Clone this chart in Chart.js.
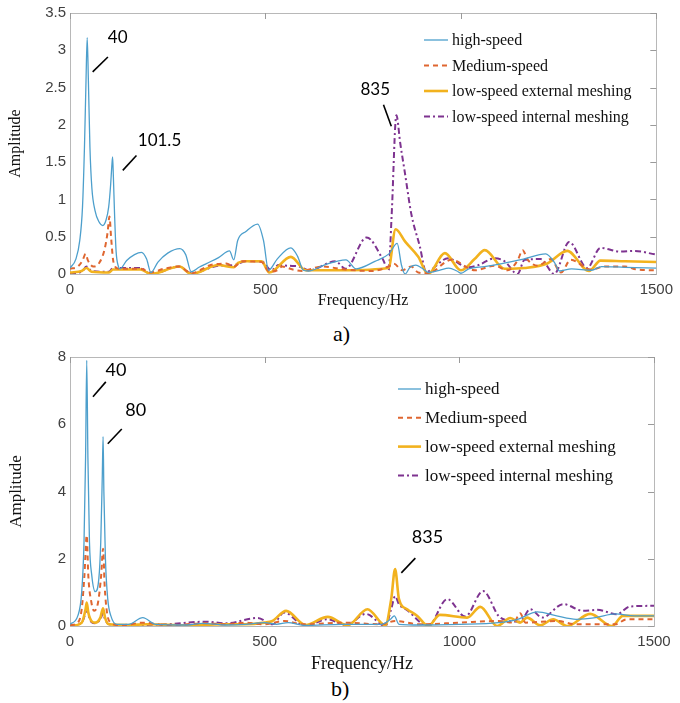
<!DOCTYPE html>
<html>
<head>
<meta charset="utf-8">
<script src="https://cdn.jsdelivr.net/npm/chart.js@4"></script>
<style>
  body { margin: 0; background: #fff; width: 680px; height: 703px; position: relative; overflow: hidden; }
  canvas { position: absolute; left: 0; }
  .cap { position: absolute; font-family: "Liberation Serif", serif; font-size: 22px; color: #000; }
</style>
</head>
<body>
<canvas id="chartA" width="680" height="310" style="top:0"></canvas>
<div class="cap" style="left:333px; top:321px">a)</div>
<canvas id="chartB" width="680" height="335" style="top:340px"></canvas>
<div class="cap" style="left:331px; top:676px">b)</div>
<script>
// series names
const names = ['high-speed', 'Medium-speed', 'low-speed external meshing', 'low-speed internal meshing'];

// a) frequency (Hz) / amplitude pairs
const aHighX = [0, 15, 25, 32, 37, 41, 44, 47, 51, 56, 64, 74, 84, 92, 99, 104, 107, 109, 111, 114, 118, 124, 128, 145, 165, 183, 196, 207, 225, 250, 281, 296, 310, 330, 349, 380, 408, 419, 429, 450, 480, 495, 508, 530, 565, 582, 597, 610, 650, 706, 732, 780, 816, 837, 848, 857, 870, 885, 900, 918, 945, 969, 990, 1000, 1020, 1060, 1105, 1160, 1217, 1240, 1252, 1283, 1334, 1360, 1420, 1500];
const aHighY = [0.08, 0.2, 0.45, 0.9, 1.7, 2.6, 3.17, 2.6, 1.7, 1.15, 0.85, 0.7, 0.65, 0.72, 0.9, 1.2, 1.45, 1.57, 1.3, 0.8, 0.3, 0.1, 0.07, 0.18, 0.26, 0.29, 0.2, 0.02, 0.16, 0.28, 0.34, 0.26, 0.03, 0.09, 0.14, 0.22, 0.31, 0.19, 0.45, 0.57, 0.67, 0.45, 0.05, 0.2, 0.35, 0.24, 0.05, 0.04, 0.12, 0.19, 0.07, 0.17, 0.27, 0.41, 0.12, 0.0, 0.09, 0.12, 0.08, 0.02, 0.05, 0.08, 0.04, 0.01, 0.07, 0.1, 0.14, 0.2, 0.27, 0.15, 0.04, 0.07, 0.05, 0.1, 0.09, 0.08];
const aMedX = [0, 20, 32, 40, 46, 60, 75, 88, 96, 101, 105, 110, 115, 125, 180, 207, 240, 280, 310, 360, 400, 420, 440, 490, 510, 530, 543, 570, 593, 644, 705, 772, 815, 828, 850, 873, 891, 916, 976, 1036, 1086, 1120, 1145, 1158, 1170, 1179, 1196, 1230, 1256, 1281, 1332, 1370, 1420, 1450, 1500];
const aMedY = [0.07, 0.1, 0.18, 0.27, 0.18, 0.1, 0.15, 0.32, 0.55, 0.77, 0.5, 0.2, 0.1, 0.07, 0.07, 0.02, 0.07, 0.1, 0.01, 0.12, 0.14, 0.1, 0.17, 0.16, 0.03, 0.05, 0.1, 0.06, 0.04, 0.1, 0.06, 0.04, 0.1, 0.14, 0.05, 0.1, 0.02, 0.01, 0.19, 0.05, 0.11, 0.05, 0.18, 0.32, 0.2, 0.15, 0.11, 0.2, 0.02, 0.19, 0.06, 0.1, 0.1, 0.06, 0.05];
const aExtX = [0, 30, 42, 55, 100, 110, 180, 207, 280, 310, 380, 419, 430, 450, 490, 510, 565, 603, 700, 815, 833, 858, 891, 916, 959, 1000, 1035, 1061, 1112, 1163, 1221, 1272, 1328, 1357, 1420, 1500];
const aExtY = [0.02, 0.04, 0.08, 0.03, 0.02, 0.06, 0.06, 0.0, 0.1, 0.0, 0.12, 0.09, 0.15, 0.17, 0.17, 0.02, 0.23, 0.05, 0.05, 0.08, 0.6, 0.43, 0.23, 0.0, 0.28, 0.05, 0.2, 0.32, 0.07, 0.08, 0.14, 0.31, 0.04, 0.18, 0.17, 0.16];
const aIntX = [0, 30, 42, 55, 100, 110, 180, 207, 280, 310, 380, 420, 450, 490, 515, 534, 560, 586, 611, 679, 705, 759, 800, 815, 823, 835, 845, 857, 873, 895, 911, 967, 1018, 1045, 1086, 1112, 1145, 1163, 1204, 1239, 1277, 1323, 1357, 1408, 1443, 1500];
const aIntY = [0.01, 0.03, 0.1, 0.04, 0.03, 0.08, 0.08, 0.0, 0.1, 0.01, 0.11, 0.12, 0.17, 0.17, 0.05, 0.12, 0.11, 0.1, 0.05, 0.17, 0.07, 0.49, 0.2, 0.05, 0.8, 2.13, 1.75, 1.35, 0.81, 0.37, 0.03, 0.21, 0.09, 0.12, 0.21, 0.17, 0.0, 0.19, 0.2, 0.0, 0.43, 0.08, 0.35, 0.3, 0.31, 0.26];

// b)
const bHighX = [0, 20, 30, 36, 40, 43, 46, 50, 56, 65, 74, 79, 83, 85, 87, 91, 97, 105, 120, 150, 187, 220, 300, 340, 400, 450, 500, 530, 560, 600, 700, 800, 823, 833, 845, 900, 1000, 1100, 1150, 1200, 1250, 1300, 1350, 1400, 1450, 1500];
const bHighY = [0.05, 0.3, 1.0, 2.5, 5.0, 7.9, 5.0, 2.5, 1.5, 1.02, 1.4, 2.5, 4.5, 5.63, 4.0, 2.0, 0.8, 0.3, 0.05, 0.05, 0.25, 0.05, 0.03, 0.08, 0.03, 0.05, 0.1, 0.05, 0.1, 0.02, 0.05, 0.05, 0.2, 0.3, 0.05, 0.03, 0.05, 0.1, 0.2, 0.42, 0.3, 0.2, 0.25, 0.36, 0.3, 0.3];
const bMedX = [0, 20, 30, 37, 43, 47, 55, 62, 72, 80, 85, 89, 95, 105, 130, 190, 250, 350, 400, 450, 500, 550, 600, 700, 800, 835, 900, 1000, 1100, 1140, 1156, 1170, 1250, 1300, 1400, 1430, 1500];
const bMedY = [0.02, 0.1, 0.5, 1.5, 2.7, 1.5, 0.7, 0.45, 0.7, 1.5, 2.3, 1.2, 0.4, 0.1, 0.02, 0.1, 0.02, 0.08, 0.05, 0.1, 0.05, 0.15, 0.05, 0.1, 0.05, 0.15, 0.05, 0.1, 0.15, 0.1, 0.38, 0.1, 0.15, 0.05, 0.05, 0.2, 0.2];
const bExtX = [0, 30, 40, 43, 47, 55, 65, 78, 85, 90, 100, 150, 200, 300, 400, 450, 500, 520, 555, 605, 662, 713, 764, 810, 825, 835, 845, 866, 892, 920, 950, 1020, 1054, 1097, 1131, 1156, 1174, 1208, 1241, 1277, 1336, 1392, 1420, 1500];
const bExtY = [0.0, 0.1, 0.5, 0.7, 0.4, 0.15, 0.1, 0.25, 0.53, 0.25, 0.05, 0.03, 0.05, 0.02, 0.05, 0.05, 0.1, 0.15, 0.45, 0.03, 0.27, 0.02, 0.5, 0.02, 0.8, 1.69, 0.8, 0.5, 0.3, 0.0, 0.33, 0.25, 0.57, 0.0, 0.24, 0.1, 0.25, 0.02, 0.2, 0.0, 0.36, 0.0, 0.3, 0.3];
const bIntX = [0, 30, 40, 43, 47, 55, 65, 78, 85, 90, 100, 150, 250, 349, 400, 482, 520, 550, 605, 660, 710, 760, 810, 825, 835, 845, 866, 920, 969, 1015, 1061, 1105, 1156, 1182, 1213, 1267, 1318, 1354, 1405, 1438, 1500];
const bIntY = [0.0, 0.1, 0.4, 0.55, 0.35, 0.12, 0.08, 0.2, 0.38, 0.2, 0.05, 0.03, 0.05, 0.13, 0.08, 0.24, 0.05, 0.4, 0.0, 0.2, 0.03, 0.36, 0.0, 0.5, 0.89, 0.65, 0.47, 0.0, 0.8, 0.28, 1.04, 0.25, 0.13, 0.5, 0.25, 0.65, 0.45, 0.48, 0.35, 0.58, 0.6];

// peak labels: text position and leader line, in data units
const notesA = [
  { text: '40', tx: 122, ty: 3.17, x1: 58, y1: 2.71, x2: 97, y2: 2.91 },
  { text: '101.5', tx: 229, ty: 1.79, x1: 135, y1: 1.39, x2: 170, y2: 1.59 },
  { text: '835', tx: 781, ty: 2.48, x1: 802, y1: 2.27, x2: 822, y2: 1.98 }
];
const notesB = [
  { text: '40', tx: 118, ty: 7.62, x1: 59, y1: 6.82, x2: 92, y2: 7.26 },
  { text: '80', tx: 169, ty: 6.43, x1: 97, y1: 5.42, x2: 133, y2: 5.86 },
  { text: '835', tx: 918, ty: 2.65, x1: 851, y1: 1.58, x2: 887, y2: 2.02 }
];

const pts = (xs, ys) => xs.map((x, i) => ({ x, y: ys[i] }));

function series(sets) {
  const styles = [
    { borderColor: '#4d9fcc', borderWidth: 1.3 },
    { borderColor: '#df6630', borderWidth: 2, borderDash: [5, 4] },
    { borderColor: '#f2b21e', borderWidth: 2.6 },
    { borderColor: '#7e3390', borderWidth: 2, borderDash: [6, 3, 2, 3] }
  ];
  return sets.map((s, i) => Object.assign({
    label: names[i],
    data: pts(s[0], s[1]),
    pointRadius: 0,
    fill: false,
    cubicInterpolationMode: 'monotone'
  }, styles[i]));
}

// box, inward ticks, peak labels and the in-plot legend
const frame = {
  id: 'frame',
  beforeDatasetsDraw(chart) {
    const { ctx, chartArea: a } = chart;
    ctx.save();
    ctx.strokeStyle = '#b8b8b8';
    ctx.lineWidth = 1;
    ctx.strokeRect(Math.round(a.left) + 0.5, Math.round(a.top) + 0.5, Math.round(a.width), Math.round(a.height));
    ctx.restore();
  },
  afterDatasetsDraw(chart, args, opts) {
    const { ctx, chartArea: a, scales: { x, y } } = chart;
    ctx.save();
    ctx.strokeStyle = '#9a9a9a';
    ctx.lineWidth = 1;
    ctx.beginPath();
    x.ticks.forEach(t => {
      const p = Math.round(x.getPixelForValue(t.value)) + 0.5;
      ctx.moveTo(p, a.top); ctx.lineTo(p, a.top + 6);
    });
    y.ticks.forEach(t => {
      const p = Math.round(y.getPixelForValue(t.value)) + 0.5;
      ctx.moveTo(a.right, p); ctx.lineTo(a.right - 6, p);
    });
    ctx.stroke();

    // peak labels
    ctx.strokeStyle = '#000';
    ctx.lineWidth = 1.6;
    ctx.fillStyle = '#000';
    ctx.font = opts.noteFont;
    ctx.textAlign = 'center';
    ctx.textBaseline = 'middle';
    opts.notes.forEach(n => {
      ctx.beginPath();
      ctx.moveTo(x.getPixelForValue(n.x1), y.getPixelForValue(n.y1));
      ctx.lineTo(x.getPixelForValue(n.x2), y.getPixelForValue(n.y2));
      ctx.stroke();
      ctx.fillText(n.text, x.getPixelForValue(n.tx), y.getPixelForValue(n.ty));
    });

    // legend
    const L = opts.legend;
    ctx.font = L.font;
    ctx.textAlign = 'left';
    chart.data.datasets.forEach((ds, i) => {
      const ly = L.y + i * L.gap;
      ctx.strokeStyle = ds.borderColor;
      ctx.lineWidth = ds.borderWidth;
      ctx.setLineDash(ds.borderDash || []);
      ctx.beginPath();
      ctx.moveTo(L.x, ly);
      ctx.lineTo(L.x + L.len, ly);
      ctx.stroke();
      ctx.setLineDash([]);
      ctx.fillStyle = '#111';
      ctx.fillText(ds.label, L.x + L.len + 4, ly + 1);
    });
    ctx.restore();
  }
};

function makeChart(id, sets, ymax, ystep, notes, geo) {
  return new Chart(document.getElementById(id), {
    type: 'line',
    data: { datasets: series(sets) },
    options: {
      responsive: false,
      animation: false,
      devicePixelRatio: 1,
      layout: { padding: { left: 6, right: geo.right, top: geo.top, bottom: 0 } },
      plugins: {
        legend: { display: false },
        tooltip: { enabled: false },
        frame: { notes, noteFont: geo.noteFont, legend: geo.legend }
      },
      scales: {
        x: {
          type: 'linear', min: 0, max: 1500,
          grid: { display: false, drawTicks: false },
          border: { display: false },
          ticks: { stepSize: 500, padding: 7, color: '#404040', font: { family: 'Liberation Sans', size: 15 }, callback: v => String(v) },
          title: { display: true, text: 'Frequency/Hz', color: '#111', padding: 0, font: { family: 'Liberation Serif', size: geo.titleSize } },
          afterFit: s => { s.height = geo.xh; }
        },
        y: {
          min: 0, max: ymax,
          grid: { display: false, drawTicks: false },
          border: { display: false },
          ticks: { stepSize: ystep, padding: 4, color: '#404040', font: { family: 'Liberation Sans', size: 15 }, callback: v => String(+v) },
          title: { display: true, text: 'Amplitude', color: '#111', padding: 0, font: { family: 'Liberation Serif', size: geo.ytitleSize } },
          afterFit: s => { s.width = 64; }
        }
      }
    },
    plugins: [frame]
  });
}

makeChart('chartA', [[aHighX, aHighY], [aMedX, aMedY], [aExtX, aExtY], [aIntX, aIntY]], 3.5, 0.5, notesA, {
  right: 21, top: 12, xh: 36, titleSize: 16, ytitleSize: 16,
  noteFont: '17px Lato',
  legend: { x: 424, y: 40, gap: 25.5, len: 24, font: '16px "Liberation Serif"' }
});
makeChart('chartB', [[bHighX, bHighY], [bMedX, bMedY], [bExtX, bExtY], [bIntX, bIntY]], 8, 2, notesB, {
  right: 26, top: 17, xh: 49, titleSize: 18, ytitleSize: 17,
  noteFont: '18px Lato',
  legend: { x: 398, y: 49, gap: 28.8, len: 23, font: '17px "Liberation Serif"' }
});
</script>
</body>
</html>
